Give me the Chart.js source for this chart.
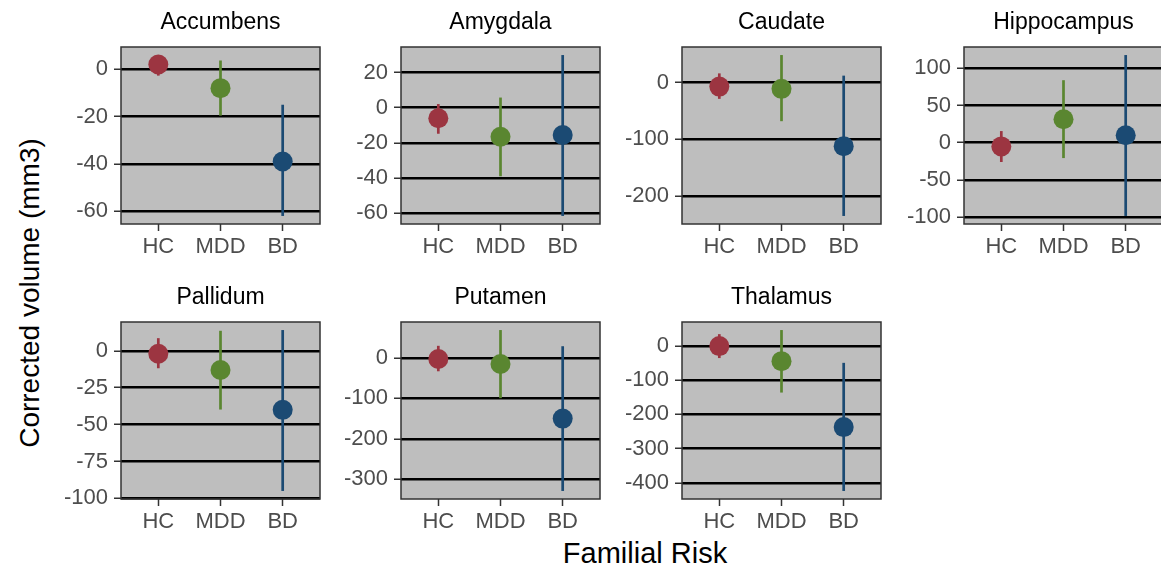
<!DOCTYPE html>
<html>
<head>
<meta charset="utf-8">
<script src="https://cdn.jsdelivr.net/npm/chart.js@4.4.1/dist/chart.umd.min.js"></script>
<style>
  html, body { margin: 0; padding: 0; width: 1161px; height: 570px; overflow: hidden; background: #ffffff; }
  .panel { position: absolute; }
  .ylab { position: absolute; left: 30px; top: 293px; transform: translate(-50%, -50%) rotate(-90deg);
          font-family: "Liberation Sans", Arial, sans-serif; font-size: 28px; color: #000; white-space: nowrap; }
  .xlab { position: absolute; left: 645px; top: 553px; transform: translate(-50%, -50%);
          font-family: "Liberation Sans", Arial, sans-serif; font-size: 29px; color: #000; white-space: nowrap; }
</style>
</head>
<body>
<div class="ylab">Corrected volume (mm3)</div>
<div class="xlab">Familial Risk</div>
<script>
// ---- data ----
const groups = ['HC', 'MDD', 'BD'];
const regions = ['Accumbens', 'Amygdala', 'Caudate', 'Hippocampus', 'Pallidum', 'Putamen', 'Thalamus'];
const meanValues = [
  [2, -8, -39],
  [-6, -16.5, -15.5],
  [-7, -11, -112],
  [-5, 31.5, 10],
  [-2, -13, -40],
  [-2.5, -15, -150],
  [0, -44, -237]
];
const lowerValues = [
  [-2.7, -19.6, -62],
  [-14.8, -39, -61.6],
  [-28.6, -68, -235],
  [-26, -20.7, -98.5],
  [-11.8, -39.8, -95],
  [-33, -99.5, -329],
  [-35, -136, -424]
];
const upperValues = [
  [6, 3.7, -15],
  [2.1, 5.8, 30],
  [16.3, 48.6, 12.3],
  [15.6, 84, 117.8],
  [8.6, 13.6, 14.1],
  [30, 69, 29],
  [35, 47, -49]
];
const tickValues = [
  [-60, -40, -20, 0],
  [-60, -40, -20, 0, 20],
  [-200, -100, 0],
  [-100, -50, 0, 50, 100],
  [-100, -75, -50, -25, 0],
  [-300, -200, -100, 0],
  [-400, -300, -200, -100, 0]
];

// ---- style / layout ----
const groupColors = ['#9C3541', '#5A8630', '#1B4A73'];
const FONT = '"Liberation Sans", Arial, sans-serif';
const plotLefts = [120.5, 401, 682, 963.5];
const plotTops = [46.5, 321.5];
const PW = 203, PH = 177;
const YAXW = 75, XAXH = 42, TITLEH = 46, PADR = 6;

const panelDeco = {
  id: 'panelDeco',
  beforeDraw(chart) {
    const a = chart.chartArea, c = chart.ctx;
    c.save();
    c.fillStyle = '#BEBEBE';
    c.fillRect(a.left, a.top, a.right - a.left, a.bottom - a.top);
    c.restore();
  },
  afterDatasetsDraw(chart) {
    const a = chart.chartArea, c = chart.ctx;
    c.save();
    c.strokeStyle = '#333333';
    c.lineWidth = 1.5;
    c.strokeRect(a.left, a.top, a.right - a.left, a.bottom - a.top);
    c.restore();
  }
};

regions.forEach((name, p) => {
  const col = p < 4 ? p : p - 4;
  const row = p < 4 ? 0 : 1;
  const div = document.createElement('div');
  div.className = 'panel';
  const w = YAXW + PW + PADR, h = TITLEH + PH + XAXH;
  div.style.left = (plotLefts[col] - YAXW) + 'px';
  div.style.top = (plotTops[row] - TITLEH) + 'px';
  div.style.width = w + 'px';
  div.style.height = h + 'px';
  const cv = document.createElement('canvas');
  cv.width = w; cv.height = h;
  cv.style.width = w + 'px'; cv.style.height = h + 'px';
  div.appendChild(cv);
  document.body.appendChild(div);

  const lo = lowerValues[p], hi = upperValues[p], mu = meanValues[p];
  const dmin = Math.min(...lo), dmax = Math.max(...hi);
  const pad = (dmax - dmin) * 0.05;

  const datasets = [{
    type: 'scatter',
    data: mu.map((v, i) => ({ x: i + 1, y: v })),
    pointRadius: 10,
    pointBackgroundColor: groupColors,
    pointBorderColor: groupColors,
    pointBorderWidth: 0,
    order: 0
  }];
  groups.forEach((g, i) => {
    datasets.push({
      type: 'line',
      data: [{ x: i + 1, y: lo[i] }, { x: i + 1, y: hi[i] }],
      borderColor: groupColors[i],
      borderWidth: 2.7,
      pointRadius: 0,
      fill: false,
      order: 1
    });
  });

  new Chart(cv, {
    type: 'scatter',
    data: { datasets },
    plugins: [panelDeco],
    options: {
      responsive: false,
      animation: false,
      devicePixelRatio: 1,
      layout: { padding: { left: 0, right: PADR, top: 0, bottom: 0 } },
      plugins: {
        legend: { display: false },
        tooltip: { enabled: false },
        title: {
          display: true,
          text: name,
          fullSize: false,
          color: '#000000',
          font: { family: FONT, size: 23, weight: 'normal', lineHeight: 1.2 },
          padding: { top: 8.2, bottom: 10.2 }
        }
      },
      scales: {
        x: {
          type: 'linear',
          min: 0.4, max: 3.6,
          afterBuildTicks(scale) { scale.ticks = groups.map((g, i) => ({ value: i + 1 })); },
          afterFit(scale) { scale.height = XAXH; },
          border: { display: false },
          grid: { drawOnChartArea: false, drawTicks: true, tickLength: 7, tickColor: '#333333', tickWidth: 1.5 },
          ticks: {
            autoSkip: false, maxRotation: 0, padding: 3,
            color: '#4D4D4D',
            font: { family: FONT, size: 22 },
            callback: (v) => groups[Math.round(v) - 1]
          }
        },
        y: {
          type: 'linear',
          min: dmin - pad, max: dmax + pad,
          afterBuildTicks(scale) { scale.ticks = tickValues[p].map(v => ({ value: v })); },
          afterFit(scale) { scale.width = YAXW; },
          border: { display: false },
          grid: { color: '#000000', lineWidth: 2.5, drawTicks: true, tickLength: 7, tickColor: '#333333', tickWidth: 1.5 },
          ticks: {
            autoSkip: false, padding: 6,
            color: '#4D4D4D',
            font: { family: FONT, size: 22 },
            callback: (v) => String(v)
          }
        }
      }
    }
  });
});
</script>
</body>
</html>
